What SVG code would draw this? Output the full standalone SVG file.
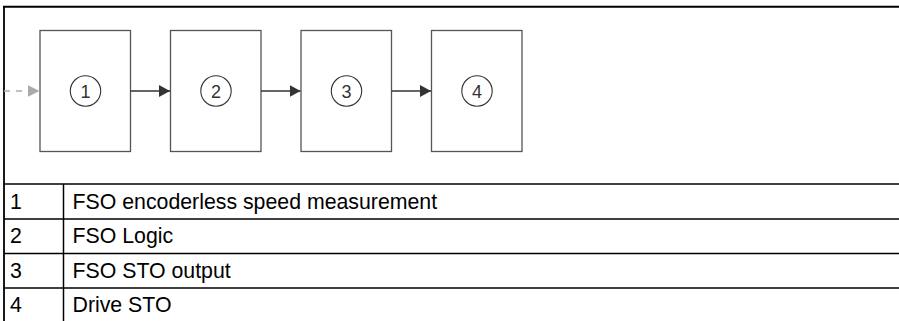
<svg xmlns="http://www.w3.org/2000/svg" width="899" height="321" viewBox="0 0 899 321">
<style>
.box{fill:#fff;stroke:#555;stroke-width:1.3}
.circ{fill:none;stroke:#333;stroke-width:1.1}
.num{font-family:"Liberation Sans",Arial,sans-serif;font-size:18px;fill:#333;text-anchor:middle}
.conn{stroke:#333;stroke-width:1.3;fill:none}
.dash{stroke:#aaa;stroke-width:1.3;fill:none;stroke-dasharray:6 6}
.frame{stroke:#000;fill:none}
.cell{font-family:"Liberation Sans",Arial,sans-serif;font-size:21.3px;fill:#000}
</style>
<defs>
<marker id="ah" viewBox="0 0 11 12" refX="11" refY="6" markerWidth="11" markerHeight="12" markerUnits="userSpaceOnUse" orient="auto">
<path d="M0,0 L11,6 L0,12 Z" fill="#333"/>
</marker>
<marker id="ahg" viewBox="0 0 12 12" refX="12" refY="6" markerWidth="12" markerHeight="12" markerUnits="userSpaceOnUse" orient="auto">
<path d="M0,0 L12,6 L0,12 Z" fill="#aaa"/>
</marker>
</defs>
<rect x="0" y="0" width="899" height="321" fill="#fff"/>
<g id="frame">
<line class="frame" x1="3" y1="6.7" x2="899" y2="6.7" stroke-width="2"/>
<line class="frame" x1="4" y1="6" x2="4" y2="321" stroke-width="1.8"/>
<line class="frame" x1="4" y1="184" x2="899" y2="184" stroke-width="1.5"/>
<line class="frame" x1="4" y1="219" x2="899" y2="219" stroke-width="1.5"/>
<line class="frame" x1="4" y1="253.5" x2="899" y2="253.5" stroke-width="1.5"/>
<line class="frame" x1="4" y1="288" x2="899" y2="288" stroke-width="1.5"/>
<line class="frame" x1="63.5" y1="184" x2="63.5" y2="321" stroke-width="1.5"/>
</g>
<g id="node1">
<rect class="box" x="40" y="30.5" width="90.5" height="121"/>
<circle class="circ" cx="85.5" cy="91" r="15.2"/>
<text class="num" x="85.5" y="97.5">1</text>
</g>
<g id="node2">
<rect class="box" x="170.5" y="30.5" width="90.5" height="121"/>
<circle class="circ" cx="216" cy="91" r="15.2"/>
<text class="num" x="216" y="97.5">2</text>
</g>
<g id="node3">
<rect class="box" x="301" y="30.5" width="90.5" height="121"/>
<circle class="circ" cx="346.5" cy="91" r="15.2"/>
<text class="num" x="346.5" y="97.5">3</text>
</g>
<g id="node4">
<rect class="box" x="431.5" y="30.5" width="90.5" height="121"/>
<circle class="circ" cx="477" cy="91" r="15.2"/>
<text class="num" x="477" y="97.5">4</text>
</g>
<g id="connectors">
<line class="dash" x1="4" y1="91" x2="39.5" y2="91" marker-end="url(#ahg)"/>
<line class="conn" x1="130.5" y1="91" x2="170" y2="91" marker-end="url(#ah)"/>
<line class="conn" x1="261" y1="91" x2="300.5" y2="91" marker-end="url(#ah)"/>
<line class="conn" x1="391.5" y1="91" x2="431" y2="91" marker-end="url(#ah)"/>
</g>
<g id="table">
<text class="cell" x="10" y="208.5">1</text>
<text class="cell" x="72.5" y="208.5">FSO encoderless speed measurement</text>
<text class="cell" x="10" y="243">2</text>
<text class="cell" x="72.5" y="243">FSO Logic</text>
<text class="cell" x="10" y="277.5">3</text>
<text class="cell" x="72.5" y="277.5">FSO STO output</text>
<text class="cell" x="10" y="312">4</text>
<text class="cell" x="72.5" y="312">Drive STO</text>
</g>
</svg>
